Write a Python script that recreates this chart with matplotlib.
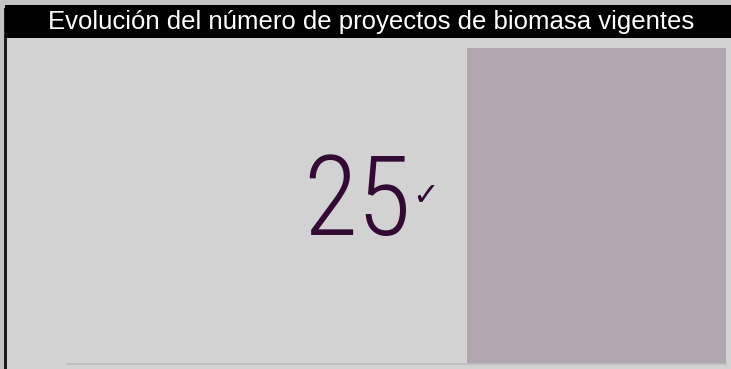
import matplotlib.pyplot as plt
from matplotlib import font_manager
from matplotlib.patches import Rectangle

title = "Evolución del número de proyectos de biomasa vigentes"
categories = ["Proyectos vigentes"]
values = [25]
kpi_label = "25"

# narrow face for the big number if one is installed
names = {f.name for f in font_manager.fontManager.ttflist}
kpi_font = "Roboto"
for cand in ["Roboto Condensed", "Liberation Sans Narrow"]:
    if cand in names:
        kpi_font = cand
        break

W, H = 731, 369
fig = plt.figure(figsize=(W / 100, H / 100), dpi=100)
fig.patch.set_facecolor("#c3c3c3")

# panel background + left frame line
fig.patches.append(Rectangle((5 / W, 0), 1 - 5 / W, 1 - 5 / H, transform=fig.transFigure,
                             facecolor="#d2d2d2", edgecolor="none", zorder=0))
fig.patches.append(Rectangle((4 / W, 0), 3 / W, 1 - 8 / H, transform=fig.transFigure,
                             facecolor="#1c1c1c", edgecolor="none", zorder=1))
# title band
fig.patches.append(Rectangle((5 / W, 1 - 38 / H), 1 - 5 / W, 33 / H, transform=fig.transFigure,
                             facecolor="#000000", edgecolor="none", zorder=1))
fig.text(371 / W, 1 - 22 / H, title, color="white", fontsize=18.5,
         family="Liberation Sans", ha="center", va="center")

ax = fig.add_axes([68 / W, 5 / H, 658 / W, 316 / H])
ax.set_zorder(3)
ax.set_facecolor("none")
ax.bar(range(len(values)), values, width=1.0, color="#b2a7b0", edgecolor="none")
ax.set_xlim(-2.04, 0.5)
ax.set_ylim(0, max(values))
for s in ["top", "right", "left"]:
    ax.spines[s].set_visible(False)
ax.spines["bottom"].set_color("#bdbdbd")
ax.spines["bottom"].set_linewidth(1.2)
ax.set_xticks([])
ax.set_yticks([])

fig.text(357 / W, 1 - 205 / H, kpi_label, color="#330a33", fontsize=80,
         family=kpi_font, fontweight="light", ha="center", va="center", zorder=5)
fig.text(426 / W, 1 - 197 / H, "✓", color="#330a33", fontsize=23,
         family=["DejaVu Sans"], ha="center", va="center", zorder=5)

fig.savefig("out.png", dpi=100, facecolor=fig.get_facecolor())
